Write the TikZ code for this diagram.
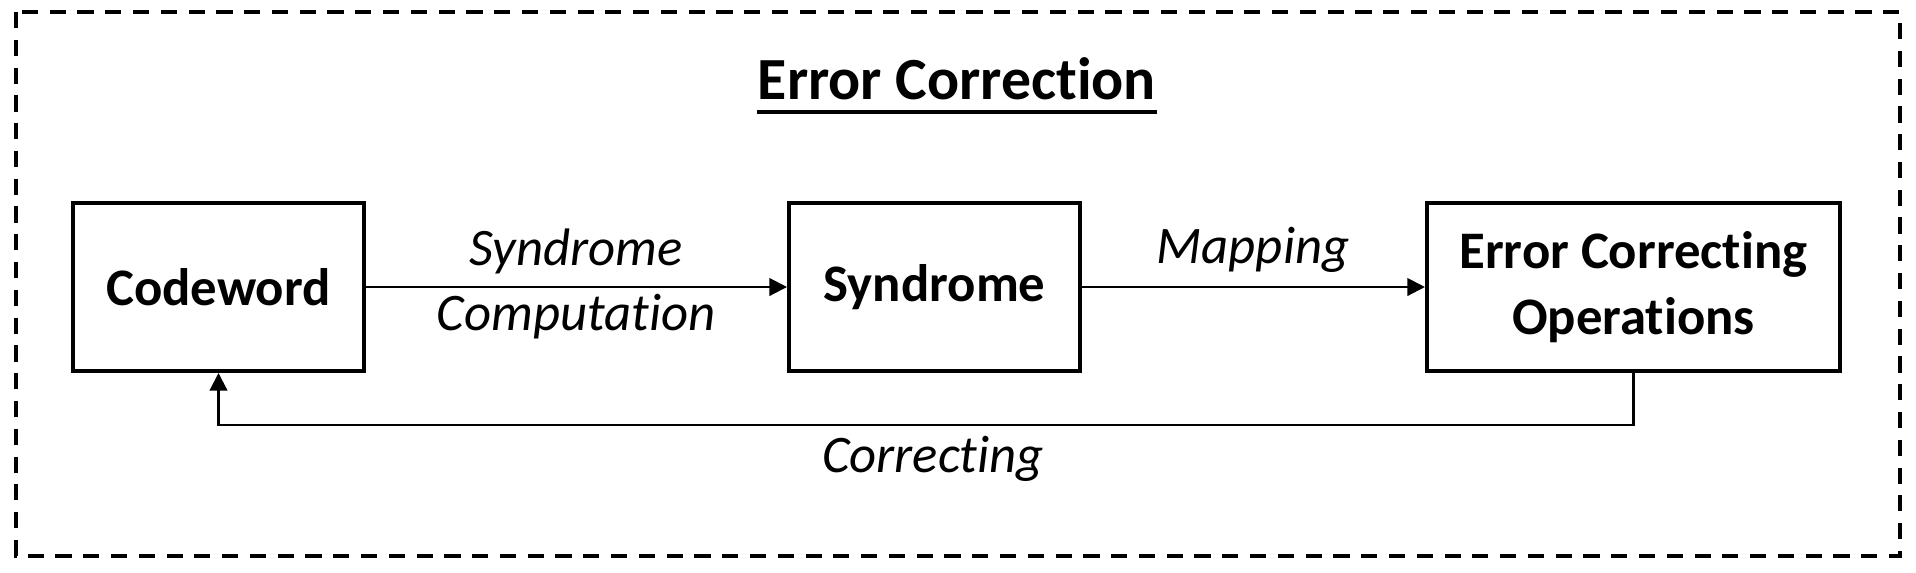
\documentclass[tikz,border=0pt]{standalone}
\usepackage{fontspec}
\setmainfont{Carlito}[Ligatures=NoCommon]
\usetikzlibrary{positioning, arrows.meta}

\begin{document}
\begin{tikzpicture}[
      x=0.01cm, y=-0.01cm,
      every node/.style={font=\fontsize{15}{18.6}\selectfont},
      block/.style={draw, line width=1.1pt, minimum height=1.68cm, align=center, font=\fontsize{15}{18.6}\selectfont\bfseries},
      lbl/.style={align=center, font=\fontsize{15}{18.6}\selectfont\itshape},
      flow/.style={-{Triangle[length=5pt, width=5pt]}, line width=0.6pt},
    ]
    \useasboundingbox (0,0) rectangle (1916,572);
    % Outer frame
    \draw[line width=1.3pt, dash pattern=on 4.6pt off 3.3pt] (16,12) rectangle (1900,556);

    % Title
    \node[inner sep=0pt, anchor=base, font=\fontsize{17}{20}\selectfont\bfseries] (title) at (957,99) {Error Correction};
    \draw[line width=1.2pt] ([yshift=-3.7pt]title.base west) -- ([yshift=-3.7pt]title.base east);

    % Blocks
    \node[block, minimum width=2.91cm] (code) at (218.5,287) {Codeword};
    \node[block, minimum width=2.91cm] (synd) at (934.5,287) {Syndrome};
    \node[block, minimum width=4.13cm] (ops) at (1633.5,287) {Error Correcting\\Operations};

    % Arrows
    \draw[flow] (code) -- (synd);
    \draw[flow] (synd) -- (ops);
    \coordinate (back) at (934,425);
    \draw[flow] (ops.south) |- (back) -| (code.south);

    % Labels
    \node[lbl] (sclbl) at (576,284) {Syndrome\\Computation};
    \node[lbl, anchor=base] (maplbl) at (1253,263) {Mapping};
    \node[lbl, anchor=base] (corlbl) at (933,472) {Correcting};
  \end{tikzpicture}
\end{document}
